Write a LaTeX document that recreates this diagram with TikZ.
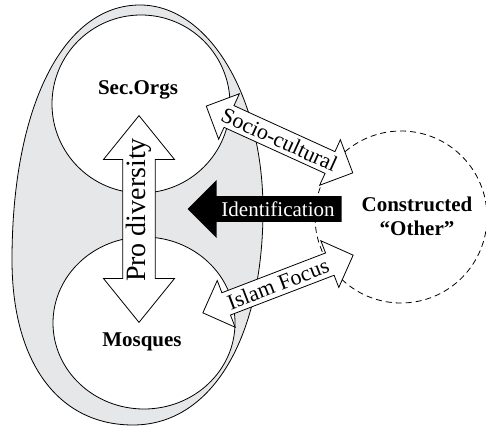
\documentclass[tikz,border=0pt]{standalone}
\usepackage{fontspec}
\setmainfont{Liberation Serif}
\usetikzlibrary{shapes.arrows,shapes.geometric}
\definecolor{ovalgray}{HTML}{E6E7E8}

\begin{document}
\begin{tikzpicture}[x=1pt, y=-1pt,
  group/.style={draw, fill=white, line width=0.8pt, inner sep=0pt},
  lab/.style={font=\fontsize{21}{24}\selectfont\bfseries, align=center},
  link/.style={double arrow, draw, fill=white, line width=0.8pt, inner sep=1pt,
    double arrow head extend=10pt, minimum width=50pt, minimum height=161pt,
    font=\fontsize{22}{24}\selectfont}
]
  \useasboundingbox (0,0) rectangle (486,427);

  % outer community
  \draw[fill=ovalgray, line width=0.8pt]
    (140,5) .. controls (208,5) and (263,95) .. (263,210)
    .. controls (263,339) and (211,425) .. (133,425)
    .. controls (58,425) and (12,362) .. (12,260)
    .. controls (12,107) and (63,5) .. cycle;

  \node[group, circle, minimum size=178pt] (secorgs) at (141,104) {};
  \node[group, ellipse, minimum width=182pt, minimum height=172pt] (mosques) at (144,323) {};
  \node[circle, draw, fill=white, line width=0.8pt, dash pattern=on 6pt off 4pt,
    minimum size=172pt] (other) at (401,217) {};

  \node[lab] (secorgs-t) at (138,90) {Sec.Orgs};
  \node[lab] (mosques-t) at (142,342) {Mosques};
  \node[lab] (other-t) at (417,216) {Constructed\\“Other”};

  \node[link, rotate=-24.5] (socio) at (279.5,139.5) {Socio-cultural};
  \node[link, rotate=21] (islam) at (278,284) {Islam Focus};
  \node[single arrow, fill=black, text=white, shape border rotate=180,
    single arrow head extend=13.5pt, minimum width=58pt, minimum height=154pt,
    inner sep=3pt, font=\fontsize{21}{24}\selectfont] (ident) at (271,209) {\hspace*{14pt}Identification};
  \node[link, rotate=90, double arrow head extend=18pt, double arrow tip angle=78,
    minimum width=71pt, minimum height=176pt, inner sep=2pt,
    font=\fontsize{28}{30}\selectfont] (prodiv) at (139,219) {\hspace*{18pt}Pro diversity};
\end{tikzpicture}
\end{document}
